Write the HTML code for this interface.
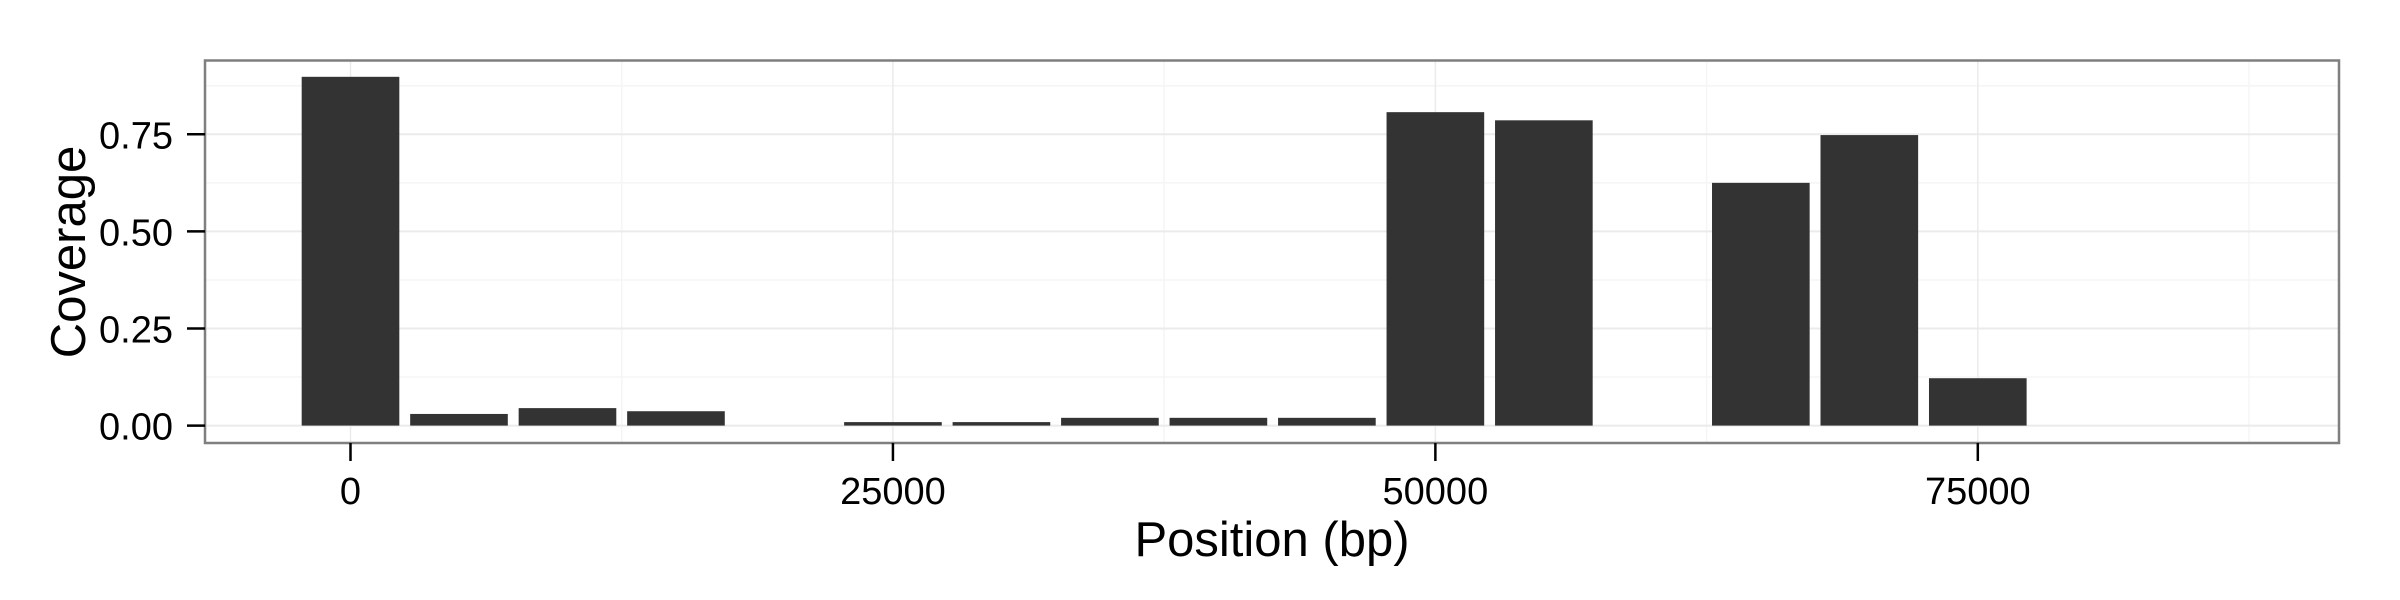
<!DOCTYPE html>
<html><head><meta charset="utf-8"><style>
html,body{margin:0;padding:0;background:#fff;}
svg{display:block;font-family:"Liberation Sans",Arial,sans-serif;}
</style></head><body>
<svg id="chart" width="2400" height="600" viewBox="0 0 2400 600" xmlns="http://www.w3.org/2000/svg">
<rect x="0" y="0" width="2400" height="600" fill="#fff"/>
<g id="grid"></g>
<g id="bars"></g>
<rect x="205" y="60.5" width="2134" height="382.5" fill="none" stroke="#7f7f7f" stroke-width="2.5"/>
<g id="axes"></g>
<text x="1272" y="556" font-size="49" text-anchor="middle">Position (bp)</text>
<text x="0" y="0" font-size="49" text-anchor="middle" transform="translate(85,252) rotate(-90)">Coverage</text>
</svg>
<script>
const positions = [0,5000,10000,15000,25000,30000,35000,40000,45000,50000,55000,65000,70000,75000];
const coverage = [0.898,0.030,0.045,0.037,0.009,0.009,0.020,0.020,0.020,0.807,0.786,0.625,0.748,0.122];
const xTicks = [0,25000,50000,75000];
const xTickLabels = ["0","25000","50000","75000"];
const yTicks = [0,0.25,0.5,0.75];
const yTickLabels = ["0.00","0.25","0.50","0.75"];
const binWidth = 5000;

const NS='http://www.w3.org/2000/svg';
const X0=205, X1=2339, Y0=443, Y1=60.5;
const xMin=-6706, xMax=91647;
function x(v){return X0+(v-xMin)/(xMax-xMin)*(X1-X0);}
function y(v){return 425.6 - v*388.4;}
function mk(tag,attrs,parent){const e=document.createElementNS(NS,tag);for(const k in attrs)e.setAttribute(k,attrs[k]);parent.appendChild(e);return e;}
const grid=document.getElementById('grid'), bars=document.getElementById('bars'), axes=document.getElementById('axes');
mk('rect',{x:X0,y:Y1,width:X1-X0,height:Y0-Y1,fill:'#fff'},grid);
for(let i=0;i<xTicks.length;i++){const v=xTicks[i]+12500;if(x(v)<X1){const l=mk('line',{x1:x(v),x2:x(v),y1:Y1,y2:Y0,stroke:'#f5f5f5','stroke-width':1.5},grid);

}}
for(let i=0;i<yTicks.length;i++){const v=yTicks[i]+0.125;const l=mk('line',{x1:X0,x2:X1,y1:y(v),y2:y(v),stroke:'#f5f5f5','stroke-width':1.5},grid);

}
for(let i=0;i<xTicks.length;i++){const v=xTicks[i];const l=mk('line',{x1:x(v),x2:x(v),y1:Y1,y2:Y0,stroke:'#ebebeb','stroke-width':1.5},grid);


const t=mk('line',{x1:x(v),x2:x(v),y1:Y0,y2:Y0+18,stroke:'#000','stroke-width':2.5},axes);


const tx=mk('text',{x:x(v),y:504,'font-size':38,'text-anchor':'middle'},axes);tx.textContent=xTickLabels[i];

}
for(let i=0;i<yTicks.length;i++){const v=yTicks[i];const l=mk('line',{x1:X0,x2:X1,y1:y(v),y2:y(v),stroke:'#ebebeb','stroke-width':2},grid);


const t=mk('line',{x1:X0-18,x2:X0,y1:y(v),y2:y(v),stroke:'#000','stroke-width':2.5},axes);


const tx=mk('text',{x:173,y:y(v)+14,'font-size':38,'text-anchor':'end'},axes);tx.textContent=yTickLabels[i];

}
for(let i=0;i<positions.length;i++){const bw=binWidth*0.9;const xl=x(positions[i]-bw/2), xr=x(positions[i]+bw/2);
const b=mk('rect',{x:xl,y:y(coverage[i]),width:xr-xl,height:y(0)-y(coverage[i]),fill:'#333333'},bars);

}
</script>
</body></html>
